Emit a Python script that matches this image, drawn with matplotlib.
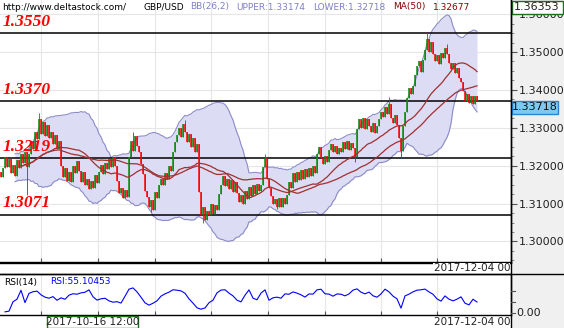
import numpy as np
import pandas as pd
import matplotlib
matplotlib.use("Agg")
import matplotlib.pyplot as plt
from matplotlib.patches import Rectangle
from matplotlib.ticker import MultipleLocator, FormatStrFormatter, NullFormatter

# ---- GBP/USD 4H closes (oldest first) ----
first_open = 1.3184
closes = [
    1.3170, 1.3195, 1.3222, 1.3196, 1.3218, 1.3180, 1.3202, 1.3172, 1.3214, 1.3194,
    1.3230, 1.3206, 1.3236, 1.3196, 1.3232, 1.3266, 1.3244, 1.3290, 1.3270, 1.3322,
    1.3284, 1.3316, 1.3278, 1.3308, 1.3272, 1.3290, 1.3258, 1.3282, 1.3244, 1.3266,
    1.3200, 1.3170, 1.3194, 1.3160, 1.3184, 1.3158, 1.3200, 1.3180, 1.3212, 1.3186,
    1.3158, 1.3184, 1.3150, 1.3164, 1.3138, 1.3160, 1.3142, 1.3176, 1.3154, 1.3184,
    1.3202, 1.3178, 1.3206, 1.3190, 1.3218, 1.3196, 1.3224, 1.3200, 1.3160, 1.3128,
    1.3140, 1.3114, 1.3136, 1.3118, 1.3222, 1.3264, 1.3240, 1.3278, 1.3252, 1.3236,
    1.3204, 1.3178, 1.3132, 1.3118, 1.3090, 1.3110, 1.3084, 1.3130, 1.3116, 1.3148,
    1.3164, 1.3148, 1.3182, 1.3166, 1.3200, 1.3186, 1.3236, 1.3262, 1.3282, 1.3300,
    1.3276, 1.3310, 1.3290, 1.3262, 1.3284, 1.3250, 1.3272, 1.3236, 1.3258, 1.3130,
    1.3070, 1.3090, 1.3058, 1.3080, 1.3070, 1.3098, 1.3072, 1.3096, 1.3082, 1.3126,
    1.3150, 1.3172, 1.3146, 1.3164, 1.3138, 1.3162, 1.3130, 1.3156, 1.3128, 1.3104,
    1.3124, 1.3100, 1.3132, 1.3112, 1.3144, 1.3120, 1.3148, 1.3126, 1.3152, 1.3132,
    1.3150, 1.3196, 1.3220, 1.3164, 1.3140, 1.3120, 1.3098, 1.3112, 1.3092, 1.3114,
    1.3092, 1.3116, 1.3098, 1.3124, 1.3156, 1.3140, 1.3180, 1.3158, 1.3184, 1.3162,
    1.3188, 1.3166, 1.3192, 1.3170, 1.3194, 1.3172, 1.3198, 1.3180, 1.3232, 1.3250,
    1.3220, 1.3204, 1.3226, 1.3210, 1.3242, 1.3258, 1.3236, 1.3252, 1.3230, 1.3248,
    1.3236, 1.3262, 1.3244, 1.3266, 1.3242, 1.3260, 1.3246, 1.3222, 1.3296, 1.3324,
    1.3300, 1.3326, 1.3298, 1.3322, 1.3304, 1.3290, 1.3312, 1.3286, 1.3304, 1.3322,
    1.3342, 1.3328, 1.3356, 1.3336, 1.3364, 1.3326, 1.3312, 1.3334, 1.3308, 1.3274,
    1.3238, 1.3306, 1.3342, 1.3378, 1.3404, 1.3390, 1.3410, 1.3440, 1.3462, 1.3476,
    1.3448, 1.3480, 1.3506, 1.3534, 1.3500, 1.3526, 1.3494, 1.3476, 1.3492, 1.3468,
    1.3498, 1.3484, 1.3510, 1.3496, 1.3470, 1.3456, 1.3470, 1.3444, 1.3458, 1.3432,
    1.3422, 1.3396, 1.3370, 1.3388, 1.3366, 1.3384, 1.3364, 1.3384, 1.33718,
]
# candles whose wicks reach well past the body
wick_high = {19: 1.3339, 66: 1.3290, 92: 1.3321, 132: 1.3230, 194: 1.3380,
             213: 1.3550, 223: 1.3522}
wick_low = {13: 1.3123, 75: 1.3077, 101: 1.3050, 138: 1.3085, 177: 1.3209,
            200: 1.3222}

# RSI(14), one reading every second candle (candles 2, 4, ... 238)
rsi_values = [
    35.4, 36.8, 55.6, 60.7, 78.6, 53.8, 72.4, 75.6, 76.9, 69.5,
    64.8, 62.7, 65.9, 58.6, 63.4, 60.5, 68.8, 71.6, 70.7, 73.3,
    74.6, 79.4, 65.6, 58.9, 61.5, 62.6, 57.4, 54.7, 55.8, 52.9,
    66.6, 80.8, 83.3, 75.4, 64.7, 53.5, 48.8, 52.6, 57.5, 66.8,
    71.4, 74.8, 79.5, 78.7, 77.3, 72.6, 61.4, 52.8, 43.5, 40.7,
    43.2, 53.6, 58.8, 73.4, 78.9, 79.6, 72.8, 67.3, 58.7, 55.4,
    68.7, 79.3, 62.8, 59.6, 72.9, 79.4, 58.6, 63.5, 64.8, 62.7,
    71.4, 70.6, 75.3, 72.8, 69.5, 64.9, 71.3, 70.8, 79.4, 80.7,
    71.5, 70.9, 66.7, 71.2, 70.6, 67.4, 71.3, 78.8, 81.4, 74.7,
    71.4, 74.9, 67.5, 64.7, 71.3, 80.8, 75.4, 66.9, 61.5, 42.8,
    67.3, 70.8, 75.4, 78.7, 79.5, 80.9, 75.3, 70.6, 61.4, 56.8,
    67.3, 60.7, 57.4, 60.8, 65.4, 52.7, 49.4, 60.6, 55.10453,
]

levels = [1.3550, 1.3370, 1.3219, 1.3071]
level_labels = ["1.3550", "1.3370", "1.3219", "1.3071"]
last_price_label = "1.33718"
top_price_label = "1.36353"
cursor_date = "2017-10-16 12:00"
last_date = "2017-12-04 00"
header = [
    ("http://www.deltastock.com/", "#000000"),
    ("GBP/USD", "#000000"),
    ("BB(26,2)", "#8080c8"),
    ("UPPER:1.33174", "#8080c8"),
    ("LOWER:1.32718", "#8080c8"),
    ("MA(50)", "#8b0000"),
    ("1.32677", "#8b0000"),
]
rsi_header = [("RSI(14)", "#000000"), ("RSI:55.10453", "#0000ff")]
grid_idx = [20, 48.5, 77, 105, 133.5, 162, 190, 218]

# ---- indicators ----
c = np.array(closes)
o = np.r_[first_open, c[:-1]]
hi = np.maximum(o, c)
lo = np.minimum(o, c)
for k, v in wick_high.items():
    hi[k] = v
for k, v in wick_low.items():
    lo[k] = v
x = np.arange(len(c))

s = pd.Series(c)
mid = s.rolling(26, min_periods=1).mean()
sd = s.rolling(26, min_periods=2).std(ddof=0)
upper = mid + 2 * sd
lower = mid - 2 * sd
ma50 = s.rolling(50, min_periods=1).mean()

rsi_x = np.arange(2, 2 * len(rsi_values) + 1, 2)

# ---- figure layout (pixel based) ----
W, H = 564, 328
fig = plt.figure(figsize=(W / 100, H / 100), dpi=100)


def box(x0, y0, x1, y1):
    return [x0 / W, 1 - y1 / H, (x1 - x0) / W, (y1 - y0) / H]


bg = fig.add_axes([0, 0, 1, 1], zorder=0)
bg.set_xlim(0, W)
bg.set_ylim(H, 0)
bg.axis("off")
bg.add_patch(Rectangle((511, 0), 53, H, color="#f0f0f0", lw=0))

ax = fig.add_axes(box(0, 0, 511, 262), zorder=1)
rax = fig.add_axes(box(0, 274, 511, 315), zorder=1)

xmax = -0.5 + 511 / 2.0
for a in (ax, rax):
    a.set_xlim(-0.5, xmax)
    a.set_xticks(grid_idx)
    a.xaxis.grid(True, color="#e6e6e6", lw=0.8)
    a.set_axisbelow(True)
    a.tick_params(axis="x", direction="in", length=3, color="#555555",
                  labelbottom=False)
    a.spines["left"].set_visible(False)
    for sp in ("top", "right", "bottom"):
        a.spines[sp].set_color("#000000")
        a.spines[sp].set_linewidth(1.0)
ax.spines["top"].set_visible(False)

# price panel
ax.set_ylim(1.36372 - 262 / 3790, 1.36372)
ax.yaxis.tick_right()
ax.yaxis.set_major_locator(MultipleLocator(0.01))
ax.yaxis.set_minor_locator(MultipleLocator(0.0025))
ax.yaxis.set_major_formatter(FormatStrFormatter("%.5f"))
ax.yaxis.set_minor_formatter(NullFormatter())
ax.tick_params(axis="y", which="major", length=4, color="#555555",
               labelsize=8, labelcolor="#222222", pad=1.5)
ax.tick_params(axis="y", which="minor", length=2.5, color="#777777")
ax.yaxis.grid(True, which="major", color="#e6e6e6", lw=0.8)

ax.fill_between(x[7:], lower[7:], upper[7:], color="#dcdcf4", lw=0, zorder=1)
ax.plot(x[7:], upper[7:], color="#8c8cc8", lw=0.8, zorder=2)
ax.plot(x[7:], lower[7:], color="#8c8cc8", lw=0.8, zorder=2)

for lv in levels:
    ax.axhline(lv, color="#000000", lw=1.1, zorder=3)

up = c >= o
green, red = "#0a8a0a", "#ff0000"
for m, col in ((up, green), (~up, red)):
    ax.vlines(x[m], lo[m], hi[m], color=col, lw=0.6, zorder=4)
    ax.vlines(x[m], o[m], c[m], color=col, lw=1.1, zorder=4)

ax.plot(x[10:], mid[10:], color="#a23030", lw=0.9, zorder=5)
ax.plot(x[10:], ma50[10:], color="#a23030", lw=0.9, zorder=5)

for lv, lab in zip(levels, level_labels):
    ax.annotate(lab, xy=(0.006, lv), xycoords=("axes fraction", "data"),
                xytext=(0, 2.5), textcoords="offset points", va="bottom",
                ha="left", color="#ff0000", fontsize=12.5,
                family="Liberation Serif", weight="bold", style="italic",
                zorder=6)

# RSI panel
rax.plot(rsi_x, rsi_values, color="#0000ff", lw=0.8)
rax.set_ylim(29.1, 111.1)
rax.set_yticks([])
rax.tick_params(axis="y", right=False, left=False)

# ---- overlay: header texts, boxes, separators ----
top = fig.add_axes([0, 0, 1, 1], zorder=10)
top.set_xlim(0, W)
top.set_ylim(H, 0)
top.axis("off")

hx = [2, 143, 190, 236, 313, 393, 433]
for (txt, col), xx in zip(header, hx):
    top.text(xx, 7, txt, color=col, fontsize=6.5, va="center", ha="left",
             family="DejaVu Sans")
for (txt, col), xx in zip(rsi_header, [4, 50]):
    top.text(xx, 282, txt, color=col, fontsize=6.5, va="center", ha="left",
             family="DejaVu Sans")

top.plot([0, 511], [262.5, 262.5], color="#000000", lw=1)
top.plot([0, W], [273.5, 273.5], color="#000000", lw=1)
top.plot([511, 511], [0, H], color="#000000", lw=1)

top.text(510, 268, last_date, fontsize=7.5, color="#222222", ha="right",
         va="center", bbox=dict(fc="white", ec="none", pad=0.3))
top.text(510, 322, last_date, fontsize=7.5, color="#222222", ha="right",
         va="center")
top.add_patch(Rectangle((47, 315.5), 91, 12, fc="white", ec="#1e6e1e", lw=1))
top.text(92.5, 322, cursor_date, fontsize=7.5, color="#222222", ha="center",
         va="center")
top.text(516, 313, "0.00", fontsize=8, color="#222222", ha="left",
         va="center")
for yy in (291, 302, 313):
    top.plot([511, 515], [yy, yy], color="#555555", lw=0.8)

top.add_patch(Rectangle((511.5, 0.5), 51, 13.5, fc="white", ec="#1e6e1e",
                        lw=1))
top.text(537, 7.5, top_price_label, fontsize=8, color="#222222", ha="center",
         va="center")
top.add_patch(Rectangle((511.5, 101), 46, 13, fc="#7ec8f2", ec="#2b88d0",
                        lw=1))
top.text(534.5, 107.5, last_price_label, fontsize=8, color="#111111",
         ha="center", va="center")

fig.savefig("out.png", dpi=100)
